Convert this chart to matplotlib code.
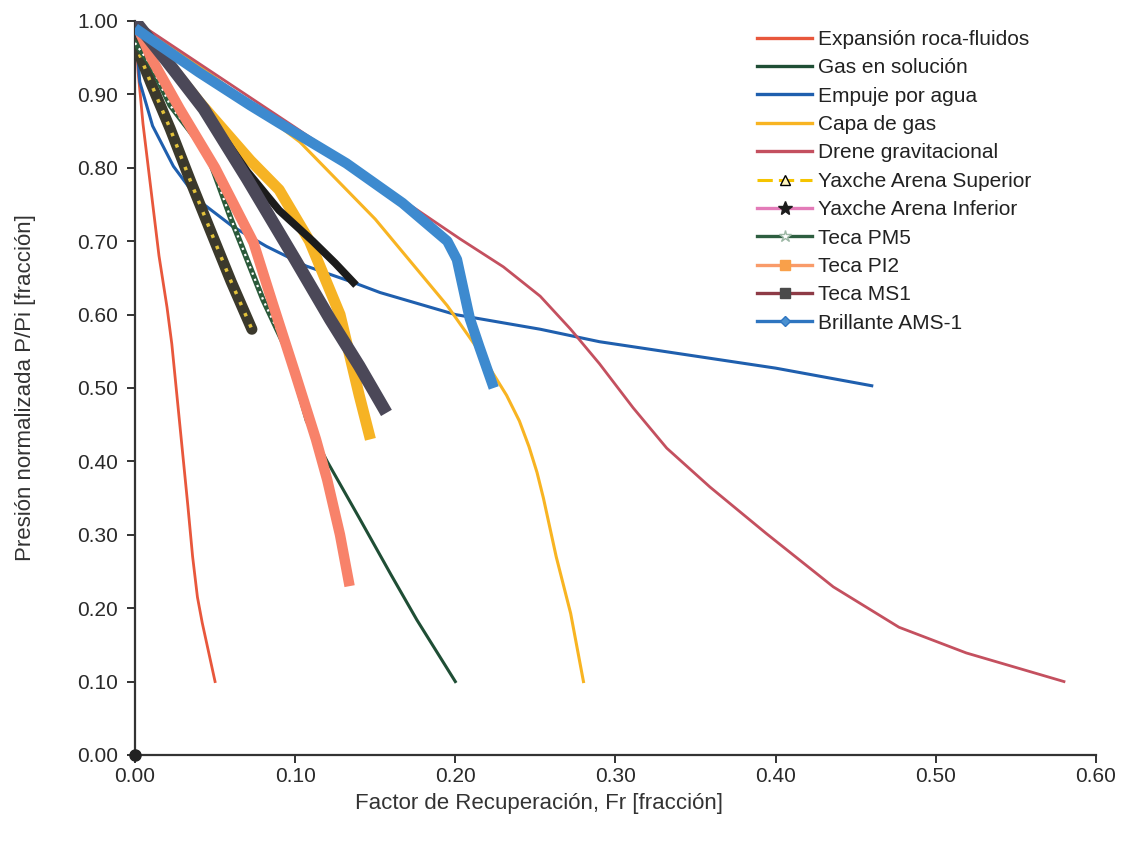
import matplotlib
matplotlib.use('Agg')
import matplotlib.pyplot as plt
from matplotlib.lines import Line2D

plt.rcParams['font.family'] = ['Liberation Sans', 'DejaVu Sans']

# ---------------- data ----------------
exp_x = [0.0, 0.002, 0.005, 0.010, 0.015, 0.020, 0.023, 0.028, 0.033, 0.036, 0.039, 0.042, 0.046, 0.050]
exp_y = [1.00, 0.93, 0.86, 0.77, 0.68, 0.61, 0.56, 0.45, 0.34, 0.27, 0.215, 0.18, 0.14, 0.10]

gas_x = [0.0, 0.010, 0.022, 0.045, 0.060, 0.080, 0.093, 0.107, 0.120, 0.140, 0.160, 0.176, 0.190, 0.200]
gas_y = [1.00, 0.95, 0.89, 0.82, 0.73, 0.62, 0.56, 0.455, 0.40, 0.323, 0.245, 0.184, 0.135, 0.10]

agua_x = [0.0, 0.003, 0.011, 0.024, 0.040, 0.061, 0.082, 0.107, 0.136, 0.153, 0.200, 0.253, 0.290, 0.400, 0.460]
agua_y = [1.00, 0.917, 0.857, 0.802, 0.755, 0.72, 0.693, 0.666, 0.644, 0.63, 0.60, 0.58, 0.563, 0.527, 0.503]

capa_x = [0.0, 0.050, 0.103, 0.150, 0.195, 0.215, 0.232, 0.240, 0.246, 0.251, 0.255, 0.263, 0.272, 0.280]
capa_y = [1.00, 0.923, 0.835, 0.73, 0.612, 0.55, 0.49, 0.455, 0.42, 0.385, 0.35, 0.27, 0.193, 0.10]

drene_x = [0.0, 0.100, 0.203, 0.230, 0.253, 0.272, 0.290, 0.311, 0.332, 0.359, 0.394, 0.436, 0.477, 0.519, 0.580]
drene_y = [1.00, 0.855, 0.703, 0.665, 0.625, 0.58, 0.533, 0.473, 0.418, 0.365, 0.302, 0.229, 0.174, 0.139, 0.10]

ysup_x = [0.0, 0.010, 0.022, 0.035, 0.047, 0.060, 0.073]
ysup_y = [0.97, 0.915, 0.853, 0.78, 0.715, 0.645, 0.58]

banda_amarilla_x = [0.0, 0.040, 0.072, 0.090, 0.109, 0.128, 0.140, 0.147]
banda_amarilla_y = [1.00, 0.89, 0.81, 0.77, 0.70, 0.60, 0.49, 0.43]

yinf_x = [0.0, 0.043, 0.070, 0.090, 0.111, 0.125, 0.138]
yinf_y = [1.00, 0.88, 0.795, 0.742, 0.70, 0.67, 0.64]

pm5_x = [0.0, 0.010, 0.022, 0.045, 0.060, 0.080, 0.093]
pm5_y = [0.97, 0.94, 0.885, 0.82, 0.73, 0.62, 0.56]

pi2_x = [0.003, 0.010, 0.028, 0.050, 0.074, 0.086, 0.100, 0.113, 0.120, 0.128, 0.134]
pi2_y = [0.985, 0.95, 0.88, 0.80, 0.698, 0.615, 0.52, 0.43, 0.375, 0.30, 0.23]

ms1_x = [0.0, 0.020, 0.043, 0.070, 0.100, 0.122, 0.140, 0.157]
ms1_y = [1.00, 0.945, 0.88, 0.785, 0.675, 0.593, 0.53, 0.466]

ams_x = [0.0, 0.040, 0.072, 0.090, 0.132, 0.167, 0.195, 0.201, 0.205, 0.209, 0.215, 0.224]
ams_y = [0.99, 0.93, 0.885, 0.861, 0.806, 0.752, 0.70, 0.675, 0.635, 0.595, 0.556, 0.50]

origen_x = [0.0]
origen_y = [0.0]

labels = ["Expansión roca-fluidos", "Gas en solución", "Empuje por agua", "Capa de gas",
          "Drene gravitacional", "Yaxche Arena Superior", "Yaxche Arena Inferior",
          "Teca PM5", "Teca PI2", "Teca MS1", "Brillante AMS-1"]

x_ticks = [0.0, 0.1, 0.2, 0.3, 0.4, 0.5, 0.6]
y_ticks = [0.0, 0.1, 0.2, 0.3, 0.4, 0.5, 0.6, 0.7, 0.8, 0.9, 1.0]

# ---------------- figure ----------------
fig = plt.figure(figsize=(11.21, 8.41), dpi=100)
ax = fig.add_axes([0.1204, 0.1023, 0.8573, 0.8728])

c_exp = '#E8573C'
c_gas = '#1F4E35'
c_agua = '#1F5FAE'
c_capa = '#F8B422'
c_drene = '#C4505F'

# theoretical curves
ax.plot(exp_x, exp_y, color=c_exp, lw=2.0, zorder=2)
ax.plot(gas_x, gas_y, color=c_gas, lw=2.2, zorder=2)
ax.plot(agua_x, agua_y, color=c_agua, lw=2.2, zorder=2)
ax.plot(capa_x, capa_y, color=c_capa, lw=2.2, zorder=2)
ax.plot(drene_x, drene_y, color=c_drene, lw=2.0, zorder=2)

# field data (dense markers rendered as bands)
ax.plot(ysup_x, ysup_y, color='#3B392C', lw=8, solid_capstyle='round', zorder=3)
ax.plot(ysup_x, ysup_y, color='#E2C23A', lw=2.5, ls=(0, (1, 2.5)), zorder=3.1)
ax.plot(banda_amarilla_x, banda_amarilla_y, color='#F6B324', lw=8, solid_capstyle='butt', zorder=3.2)
ax.plot(yinf_x, yinf_y, color='#1C1C1C', lw=5.5, solid_capstyle='butt', zorder=3.3)
ax.plot(pm5_x, pm5_y, color='#2A5A3A', lw=4, zorder=3.4)
ax.plot(pm5_x, pm5_y, color='white', lw=1.6, ls=(0, (1, 2)), zorder=3.5)
ax.plot(pi2_x, pi2_y, color='#F8826A', lw=7.5, solid_capstyle='butt', zorder=3.6)
ax.plot(ms1_x, ms1_y, color='#4B4858', lw=9, solid_capstyle='butt', zorder=3.7)
ax.plot(ams_x, ams_y, color='#3D8ACF', lw=7.5, solid_capstyle='butt', zorder=3.8)
ax.plot(origen_x, origen_y, 'o', color='#222222', ms=8, clip_on=False, zorder=5)

# legend (proxy handles with the original styling)
handles = [
    Line2D([], [], color=c_exp, lw=2.4),
    Line2D([], [], color=c_gas, lw=2.4),
    Line2D([], [], color=c_agua, lw=2.4),
    Line2D([], [], color=c_capa, lw=2.4),
    Line2D([], [], color=c_drene, lw=2.4),
    Line2D([], [], color='#F5C400', lw=2.2, ls=(0, (5, 2)), marker='^', ms=7,
           markerfacecolor='#FFF6C0', markeredgecolor='black'),
    Line2D([], [], color='#E37BB8', lw=2.4, marker='*', ms=10, markerfacecolor='#1C1C1C',
           markeredgecolor='#1C1C1C'),
    Line2D([], [], color='#2D5E40', lw=2.4, marker='*', ms=9, markerfacecolor='white',
           markeredgecolor='#9DB8A5'),
    Line2D([], [], color='#F99B6A', lw=2.4, marker='s', ms=7, markerfacecolor='#F9A04A',
           markeredgecolor='#F9A04A'),
    Line2D([], [], color='#8E3B46', lw=2.4, marker='s', ms=7, markerfacecolor='#4A4A4A',
           markeredgecolor='#4A4A4A'),
    Line2D([], [], color='#2E75C0', lw=2.4, marker='D', ms=5, markerfacecolor='#4A90D0',
           markeredgecolor='#2E75C0'),
]
leg = fig.legend(handles, labels, loc='upper left', bbox_to_anchor=(757 / 1121, 1 - 30 / 841),
                 frameon=False, fontsize=15, handlelength=2.65, handletextpad=0.3,
                 labelspacing=0.45, borderpad=0, borderaxespad=0)
for t in leg.get_texts():
    t.set_color('#222222')

# axes styling
ax.set_xlim(0, 0.6)
ax.set_ylim(0, 1.0)
ax.set_xticks(x_ticks)
ax.set_xticklabels([f"{v:.2f}" for v in x_ticks])
ax.set_yticks(y_ticks)
ax.set_yticklabels([f"{v:.2f}" for v in y_ticks])
for s in ['top', 'right']:
    ax.spines[s].set_visible(False)
for s in ['left', 'bottom']:
    ax.spines[s].set_color('#333333')
    ax.spines[s].set_linewidth(1.6)
ax.tick_params(axis='both', direction='out', length=6, width=1.4, color='#333333',
               labelsize=15, labelcolor='#2a2a2a')
ax.tick_params(axis='x', pad=3)
ax.tick_params(axis='y', pad=6)
ax.set_xlabel("Factor de Recuperación, Fr [fracción]", fontsize=16, color='#333333')
ax.set_ylabel("Presión normalizada P/Pi [fracción]", fontsize=16, color='#333333')
ax.xaxis.set_label_coords((539 - 135) / 961, -0.052)
ax.yaxis.set_label_coords(-0.103, 0.5)

fig.savefig('out.png', dpi=100)
